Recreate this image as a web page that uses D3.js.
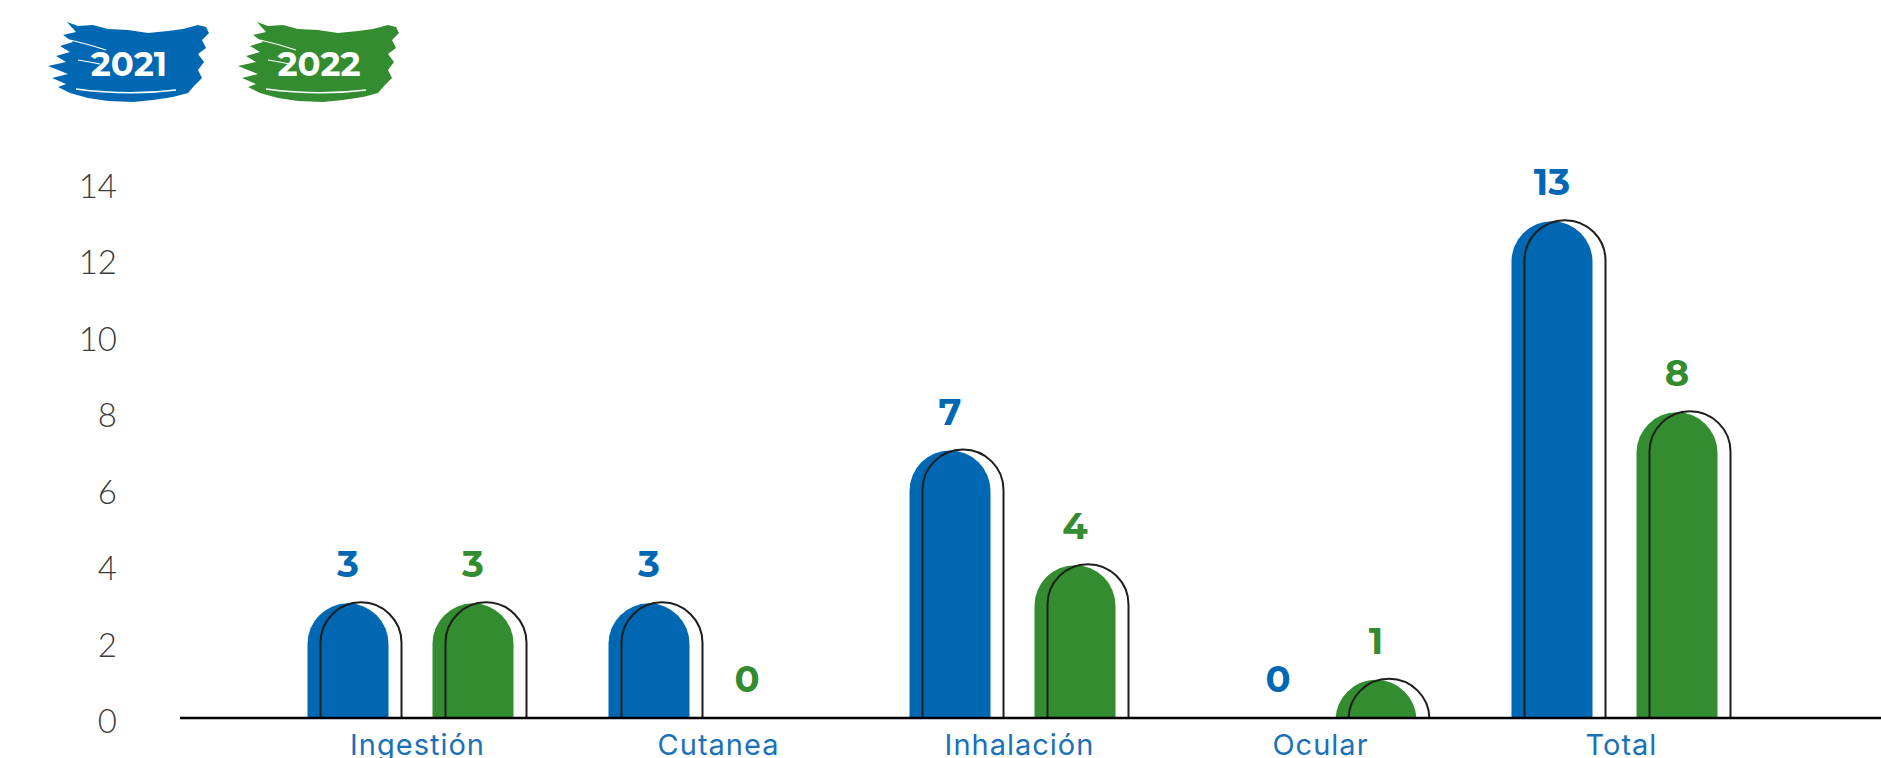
<!DOCTYPE html>
<html>
<head>
<meta charset="utf-8">
<script src="https://cdn.jsdelivr.net/npm/d3@7"></script>
<style>
  body { margin: 0; background: #fff; }
  svg { display: block; }
</style>
</head>
<body>
<div id="chart"></div>
<script>
'use strict'

// Data.
const categories = ['Ingestión', 'Cutanea', 'Inhalación', 'Ocular', 'Total'];
const years = ['2021', '2022'];
const values2021 = [3, 3, 7, 0, 13];
const values2022 = [3, 0, 4, 1, 8];
const yTicks = [0, 2, 4, 6, 8, 10, 12, 14];

const colors = { '2021': '#0068b3', '2022': '#348c30' };

const width = 1881, height = 758;
const axisY = 718;

let svg = d3.select('#chart')
    .append('svg')
        .attr('width', width)
        .attr('height', height);

// Scales.
let y = d3.scaleLinear()
    .domain([0, 14])
    .range([axisY, 183]);

let x = d3.scaleBand()
    .domain(categories)
    .range([260, 1765]);

let xSub = d3.scaleBand()
    .domain(years)
    .range([0, 206])
    .paddingInner(0.352);

let bw = xSub.bandwidth();
let r = bw / 2;
let shift = 13; // offset of the black outline

let rows = [];
categories.forEach((c, i) => {
    rows.push({ cat: c, year: '2021', value: values2021[i] });
    rows.push({ cat: c, year: '2022', value: values2022[i] });
});

let barX = d => x(d.cat) + (x.bandwidth() - 206) / 2 + xSub(d.year);

// Clip everything to above the axis.
svg.append('clipPath')
    .attr('id', 'clip')
  .append('rect')
    .attr('x', 0)
    .attr('y', 0)
    .attr('width', width)
    .attr('height', axisY);

let bars = svg.append('g').attr('clip-path', 'url(#clip)');

bars.selectAll('rect.bar')
    .data(rows.filter(d => d.value > 0))
    .join('rect')
        .attr('class', 'bar')
        .attr('x', barX)
        .attr('y', d => y(d.value))
        .attr('width', bw)
        .attr('height', d => axisY - y(d.value) + r + 5)
        .attr('rx', r)
        .attr('ry', r)
        .attr('fill', d => colors[d.year]);

bars.selectAll('rect.outline')
    .data(rows.filter(d => d.value > 0))
    .join('rect')
        .attr('class', 'outline')
        .attr('x', d => barX(d) + shift)
        .attr('y', d => y(d.value) - 1)
        .attr('width', bw)
        .attr('height', d => axisY - y(d.value) + r + 5)
        .attr('rx', r)
        .attr('ry', r)
        .attr('fill', 'none')
        .attr('stroke', '#1d1d1b')
        .attr('stroke-width', 2);

// Value labels (zero labels sit nearer the middle of the pair).
let labelX = d => {
    let cx = barX(d) + bw / 2;
    if (d.value === 0) cx += d.year === '2021' ? 27 : -27;
    return cx;
};

svg.selectAll('text.value')
    .data(rows)
    .join('text')
        .attr('class', 'value')
        .attr('x', labelX)
        .attr('y', d => y(d.value) - 26)
        .attr('text-anchor', 'middle')
        .attr('fill', d => colors[d.year])
        .style('font-family', 'Montserrat, Inter, sans-serif')
        .style('font-weight', 700)
        .style('font-size', '37px')
        .text(d => d.value);

// Axis line.
svg.append('line')
    .attr('x1', 180)
    .attr('x2', width)
    .attr('y1', axisY)
    .attr('y2', axisY)
    .attr('stroke', '#000')
    .attr('stroke-width', 2.5);

// Y tick labels.
svg.selectAll('text.ytick')
    .data(yTicks)
    .join('text')
        .attr('class', 'ytick')
        .attr('x', 117)
        .attr('y', d => y(d) + 15)
        .attr('text-anchor', 'end')
        .attr('fill', '#3c3c3b')
        .style('font-family', 'Lato, sans-serif')
        .style('font-weight', 300)
        .style('font-size', '33px')
        .text(d => d);

// Category labels.
svg.selectAll('text.cat')
    .data(categories)
    .join('text')
        .attr('class', 'cat')
        .attr('x', d => x(d) + x.bandwidth() / 2 + 7)
        .attr('y', 755)
        .attr('text-anchor', 'middle')
        .attr('fill', '#1a71b8')
        .style('font-family', 'Inter, sans-serif')
        .style('font-weight', 400)
        .style('font-size', '29px')
        .style('letter-spacing', '1px')
        .text(d => d);

// Legend: brush strokes with the year.
const brush = 'M19,2 L30,6 L45,5 L60,9 L80,10 L100,13 L120,11 L135,9 L150,5 L158,7 L161,13 '
    + 'L154,20 L158,28 L150,34 L156,42 L150,50 L154,58 L146,66 L140,73 L125,77 L105,80 '
    + 'L85,82 L60,81 L40,78 L22,73 L10,67 L18,64 L4,58 L20,54 L0,46 L18,42 L8,36 L22,32 '
    + 'L12,26 L25,22 L15,15 L28,12 Z';

let legend = svg.selectAll('g.legend')
    .data(years)
    .join('g')
        .attr('class', 'legend')
        .attr('transform', (d, i) => `translate(${48 + i * 190}, 20)`);

legend.append('path')
    .attr('d', brush)
    .attr('fill', d => colors[d]);

legend.append('path')
    .attr('d', 'M28,69 Q80,76 128,70')
    .attr('fill', 'none')
    .attr('stroke', '#fff')
    .attr('stroke-width', 1.5);

legend.append('path')
    .attr('d', 'M22,20 Q40,24 58,30 M30,40 Q42,42 52,44')
    .attr('fill', 'none')
    .attr('stroke', '#fff')
    .attr('stroke-width', 1.2);

legend.append('text')
    .attr('x', 81)
    .attr('y', 56)
    .attr('text-anchor', 'middle')
    .attr('fill', '#fff')
    .style('font-family', 'Montserrat, Inter, sans-serif')
    .style('font-weight', 700)
    .style('font-size', '34px')
    .text(d => d);
</script>
</body>
</html>
